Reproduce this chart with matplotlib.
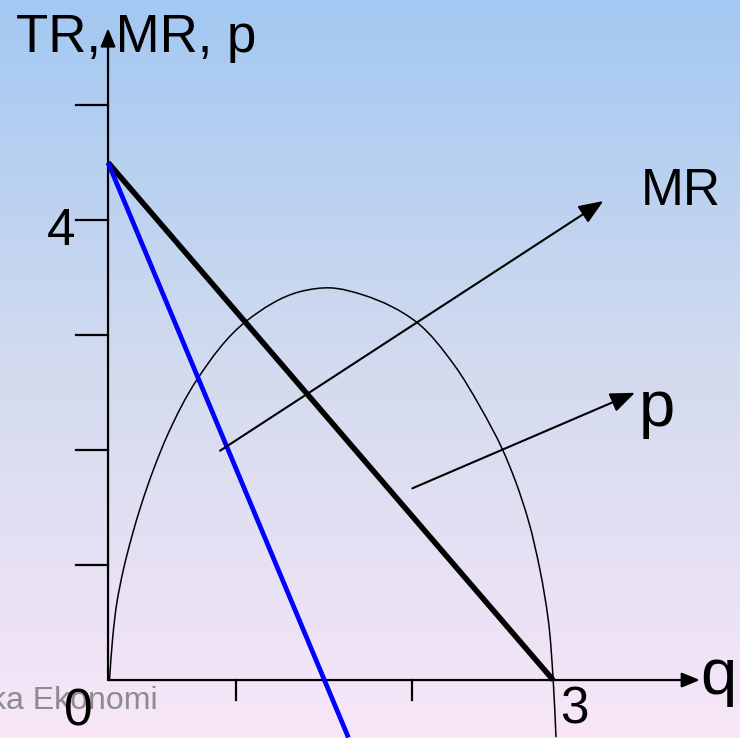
import numpy as np
import matplotlib
matplotlib.use('Agg')
import matplotlib.pyplot as plt
from matplotlib.path import Path
from matplotlib.patches import PathPatch
from matplotlib.colors import LinearSegmentedColormap

plt.rcParams['font.family'] = ['Liberation Sans', 'DejaVu Sans']

# TR curve
tr_q = [0.01, 0.032, 0.059, 0.103, 0.160, 0.227, 0.305, 0.406, 0.598, 0.935,
        1.294, 1.496, 1.720, 2.080, 2.327, 2.507, 2.660, 2.743, 2.832, 2.911,
        2.967, 3.0, 3.019]
tr_v = [0.0, 0.377, 0.667, 0.957, 1.246, 1.536, 1.826, 2.145, 2.609, 3.124,
        3.377, 3.41, 3.348, 3.111, 2.75, 2.377, 2.0, 1.739, 1.391, 0.957,
        0.522, 0.0, -0.497]

# demand (p) and marginal revenue lines
p_q = [0, 3]
p_v = [4.5, 0]
mr_q = [0, 1.62]
mr_v = [4.5, -0.5]

y_ticks = [1, 2, 3, 4, 5]
x_ticks = [0.863, 2.046]

fig = plt.figure(figsize=(7.4, 7.38), dpi=100)
ax = fig.add_axes([0, 0, 1, 1])
ax.set_xlim(-0.728, 4.259)
ax.set_ylim(-0.504, 5.913)
ax.axis('off')

# background gradient
cmap = LinearSegmentedColormap.from_list('bg', [(0, '#F8E6F8'), (0.5, '#D3DBEF'), (1, '#A3C8F2')])
grad = np.linspace(0, 1, 256).reshape(-1, 1)
ax.imshow(grad, extent=[-0.728, 4.259, -0.504, 5.913], origin='lower',
          aspect='auto', cmap=cmap, zorder=0)

# watermark
ax.text(0.337, -0.252, 'ka Ekonomi', fontsize=23, color='#8c8c8c',
        ha='right', va='baseline', zorder=1)

# axes with arrows
arr = dict(arrowstyle='-|>,head_length=1.1,head_width=0.45', color='black',
           lw=1.6, shrinkA=0, shrinkB=0, mutation_scale=10)
ax.annotate('', xy=(0, 5.667), xytext=(0, 0), arrowprops=arr, zorder=3)
ax.annotate('', xy=(3.989, 0), xytext=(0, 0), arrowprops=arr, zorder=3)

for t in y_ticks:
    ax.plot([-0.216, 0], [t, t], color='black', lw=1.6, zorder=3)
for t in x_ticks:
    ax.plot([t, t], [0, -0.174], color='black', lw=1.6, zorder=3)

# TR as a smooth curve through the read points
# (chord-length spline in screen space -> cubic Bezier segments)
pts = np.column_stack([tr_q, tr_v])
scr = pts * np.array([148.4, 115.0])
d = np.hypot(*(np.diff(scr, axis=0).T))
n = len(pts)
sl = np.diff(pts, axis=0) / d[:, None]
tan = np.zeros_like(pts)
tan[0] = sl[0]
tan[-1] = sl[-1]
for i in range(1, n - 1):
    w0, w1 = d[i], d[i - 1]
    tan[i] = (w0 * sl[i - 1] + w1 * sl[i]) / (w0 + w1)
verts = [pts[0]]
codes = [Path.MOVETO]
for i in range(n - 1):
    h = d[i]
    verts += [pts[i] + tan[i] * h / 3, pts[i + 1] - tan[i + 1] * h / 3, pts[i + 1]]
    codes += [Path.CURVE4] * 3
ax.add_patch(PathPatch(Path(verts, codes), fill=False, edgecolor='black',
                       lw=1.1, zorder=4))

ax.plot(p_q, p_v, color='black', lw=4.0, solid_capstyle='butt', zorder=5)
ax.plot(mr_q, mr_v, color='#0000FF', lw=3.4, solid_capstyle='butt', zorder=5)

# pointer arrows
parr = dict(arrowstyle='-|>,head_length=1.5,head_width=0.6', color='black',
            lw=1.5, shrinkA=0, shrinkB=0, mutation_scale=10)
ax.annotate('', xy=(3.338, 4.165), xytext=(0.755, 1.994), arrowprops=parr, zorder=6)
ax.annotate('', xy=(3.551, 2.498), xytext=(2.051, 1.667), arrowprops=parr, zorder=6)

# labels
ax.text(-0.62, 5.463, 'TR, MR, p', fontsize=38, ha='left', va='baseline', zorder=7)
ax.text(-0.313, 3.783, '4', fontsize=37, ha='center', va='baseline', zorder=7)
ax.text(3.861, 4.13, 'MR', fontsize=37, ha='center', va='baseline', zorder=7)
ax.text(3.699, 2.209, 'p', fontsize=47, ha='center', va='baseline', zorder=7)
ax.text(4.113, -0.122, 'q', fontsize=47, ha='center', va='baseline', zorder=7)
ax.text(-0.202, -0.391, '0', fontsize=37, ha='center', va='baseline', zorder=7)
ax.text(3.144, -0.377, '3', fontsize=37, ha='center', va='baseline', zorder=7)

fig.savefig('out.png', dpi=100)
